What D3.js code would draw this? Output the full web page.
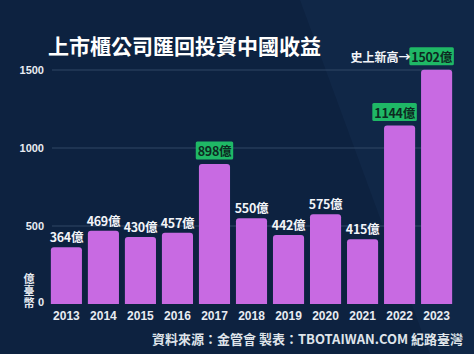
<!DOCTYPE html>
<html>
<head>
<meta charset="UTF-8">
<title>上市櫃公司匯回投資中國收益</title>
<script src="https://cdn.jsdelivr.net/npm/d3@7"></script>
<style>
  body { margin: 0; background: #0d2240; }
  svg { display: block; font-family: "Noto Sans CJK TC", "Noto Sans", sans-serif; }
</style>
</head>
<body>
<script>
// data
var years = ["2013", "2014", "2015", "2016", "2017", "2018", "2019", "2020", "2021", "2022", "2023"];
var values = [364, 469, 430, 457, 898, 550, 442, 575, 415, 1144, 1502];
var highlighted = ["2017", "2022", "2023"];
var yTicks = [0, 500, 1000, 1500];
var unitLabel = "億臺幣";

var width = 474, height = 354;
var x0 = 49, x1 = 454, yBase = 304, yTop = 70;

var svg = d3.select("body").append("svg")
    .attr("width", width)
    .attr("height", height);

// background, with the faint diagonal band on the right
svg.append("rect").attr("width", width).attr("height", height).attr("fill", "#0d2240");
svg.append("path")
    .attr("d", "M300,0 L474,0 L474,354 L430,354 Z")
    .attr("fill", "#12294a")
    .attr("opacity", 0.7);

var x = d3.scaleBand().domain(years).range([x0, x1]).paddingInner(0.16).paddingOuter(0.05);
var y = d3.scaleLinear().domain([0, 1500]).range([yBase, yTop]);

// grid
svg.append("g").selectAll("line")
    .data(yTicks.filter(function (d) { return d > 0; }))
    .join("line")
    .attr("x1", 52).attr("x2", 452)
    .attr("y1", function (d) { return y(d); })
    .attr("y2", function (d) { return y(d); })
    .attr("stroke", "#3a5270")
    .attr("stroke-width", 0.8);

// y axis labels
var yAxis = svg.append("g")
    .attr("transform", "translate(44,0)")
    .call(d3.axisLeft(y).tickValues(yTicks).tickFormat(d3.format("d")).tickSize(0).tickPadding(0));
yAxis.select(".domain").remove();
yAxis.selectAll("text")
    .attr("fill", "#e8ecf2")
    .attr("font-size", 11)
    .attr("font-weight", "bold")
    .attr("font-family", "Liberation Sans, Arial, sans-serif");
yAxis.selectAll(".tick").filter(function (d) { return d === 0; }).select("text")
    .attr("dy", "0.1em");

// unit label, written top to bottom
svg.append("text")
    .attr("x", 29)
    .attr("y", 273)
    .attr("writing-mode", "vertical-rl")
    .attr("font-size", 11)
    .attr("font-weight", "bold")
    .attr("letter-spacing", 1)
    .attr("fill", "#e8ecf2")
    .text(unitLabel);

// bars
svg.append("g").selectAll("path")
    .data(values)
    .join("path")
    .attr("fill", "#c86ae2")
    .attr("d", function (d, i) {
        var bx = x(years[i]), bw = x.bandwidth(), by = y(d), r = 3;
        return "M" + bx + "," + yBase +
            "V" + (by + r) + "Q" + bx + "," + by + " " + (bx + r) + "," + by +
            "H" + (bx + bw - r) + "Q" + (bx + bw) + "," + by + " " + (bx + bw) + "," + (by + r) +
            "V" + yBase + "Z";
    });

// x axis labels
var xAxis = svg.append("g")
    .attr("transform", "translate(0," + yBase + ")")
    .call(d3.axisBottom(x).tickSize(0).tickPadding(7));
xAxis.select(".domain").remove();
xAxis.selectAll("text")
    .attr("fill", "#e8ecf2")
    .attr("font-size", 12)
    .attr("font-weight", "bold")
    .attr("font-family", "Liberation Sans, Arial, sans-serif");

// value labels
var labels = svg.append("g").selectAll("g")
    .data(values)
    .join("g")
    .attr("transform", function (d, i) {
        var hi = highlighted.indexOf(years[i]) >= 0;
        var shift = (hi && d > 1000) ? -5 : 0;
        return "translate(" + (x(years[i]) + x.bandwidth() / 2 + shift) + "," + (y(d) - (hi ? 8 : 5)) + ")";
    });

labels.each(function (d, i) {
    var g = d3.select(this);
    var hi = highlighted.indexOf(years[i]) >= 0;
    var rect = hi ? g.append("rect") : null;
    var t = g.append("text")
        .attr("text-anchor", "middle")
        .attr("font-size", 12.5)
        .attr("font-weight", "bold")
        .attr("letter-spacing", -0.3)
        .attr("fill", hi ? "#0d2a22" : "#f2f4f8")
        .text(d + "億");
    if (rect) {
        var w = t.node().getComputedTextLength() + 4;
        rect.attr("x", -w / 2).attr("y", -14.5)
            .attr("width", w).attr("height", 18)
            .attr("rx", 1.5)
            .attr("fill", "#1fb866");
    }
});

// record note
svg.append("text")
    .attr("x", x("2023") + x.bandwidth() / 2 - 26)
    .attr("y", y(values[10]) - 8)
    .attr("text-anchor", "end")
    .attr("font-size", 12)
    .attr("font-weight", "bold")
    .attr("fill", "#f2f4f8")
    .text("史上新高→");

// title
svg.append("text")
    .attr("x", 48)
    .attr("y", 54)
    .attr("font-size", 21)
    .attr("font-weight", "bold")
    .attr("fill", "#ffffff")
    .text("上市櫃公司匯回投資中國收益");

// footer
svg.append("text")
    .attr("x", 463)
    .attr("y", 344)
    .attr("text-anchor", "end")
    .attr("font-size", 13)
    .attr("font-weight", "bold")
    .attr("fill", "#dfe4ea")
    .text("資料來源：金管會 製表：TBOTAIWAN.COM 紀路臺灣");
</script>
</body>
</html>
